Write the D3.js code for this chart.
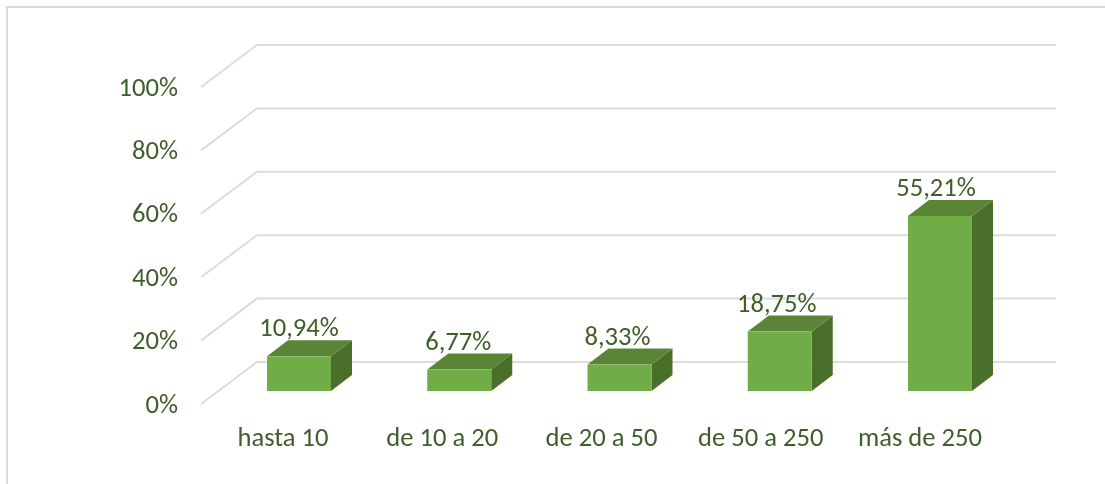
<!DOCTYPE html>
<html><head><meta charset="utf-8">
<script src="https://cdn.jsdelivr.net/npm/d3@7"></script>
<style>html,body{margin:0;padding:0;background:#fff}svg{display:block;filter:blur(0.35px)}text{font-family:Carlito,"Open Sans","Noto Sans",sans-serif}</style>
</head><body><svg id="c" width="1105" height="484"></svg>
<script>
const categories = ["hasta 10","de 10 a 20","de 20 a 50","de 50 a 250","más de 250"];
const values = [10.94,6.77,8.33,18.75,55.21];
const valueLabels = ["10,94%","6,77%","8,33%","18,75%","55,21%"];
const ticks = [0,20,40,60,80,100];

const svg = d3.select("#c");
const textColor = "#3f5f2a", grid = "#dcdcdc", fs = 26.6;
const front="#70ad47", top_="#5a8536", side="#4a6f2b";
const depth={dx:56,dy:-42}, bd={dx:21,dy:-16};

svg.append("path").attr("d","M7,484V7H1105").attr("fill","none").attr("stroke","#d9d9d9").attr("stroke-width",2);

const y = d3.scaleLinear().domain([0,100]).range([404,87]);
const x = d3.scalePoint().domain(categories).range([299,940]);
const xLabel = d3.scalePoint().domain(categories).range([283,920]);
const xValue = d3.scalePoint().domain(categories).range([299,936]);

svg.append("g").selectAll("path").data(ticks).join("path")
 .attr("d",d=>`M201,${y(d)}L${201+depth.dx},${y(d)+depth.dy}H1056`)
 .attr("fill","none").attr("stroke",grid).attr("stroke-width",2);

svg.append("g").selectAll("text").data(ticks).join("text")
 .attr("x",178).attr("y",d=>y(d)+8.5).attr("text-anchor","end")
 .attr("font-size",fs).attr("fill",textColor).text(d=>d+"%");

const base=391, bw=64, H = v => y(0)-y(v);
const g = svg.append("g").selectAll("g").data(categories).join("g");
g.append("path").attr("fill",side).attr("d",(c,i)=>{const r=x(c)+bw/2,t=base-H(values[i]);return `M${r},${t}l${bd.dx},${bd.dy}V${base+bd.dy}L${r},${base}Z`;});
g.append("path").attr("fill",top_).attr("d",(c,i)=>{const l=x(c)-bw/2,t=base-H(values[i]);return `M${l},${t}l${bd.dx},${bd.dy}h${bw}l${-bd.dx},${-bd.dy}Z`;});
g.append("rect").attr("fill",front).attr("x",c=>x(c)-bw/2).attr("width",bw).attr("y",(c,i)=>base-H(values[i])).attr("height",(c,i)=>H(values[i]));

g.append("text").attr("x",c=>xValue(c)).attr("y",(c,i)=>base-H(values[i])-20).attr("text-anchor","middle")
 .attr("font-size",fs).attr("fill",textColor).text((c,i)=>valueLabels[i]);

g.append("text").attr("x",c=>xLabel(c)).attr("y",446).attr("text-anchor","middle")
 .attr("font-size",fs).attr("fill",textColor).text(c=>c);
</script></body></html>
